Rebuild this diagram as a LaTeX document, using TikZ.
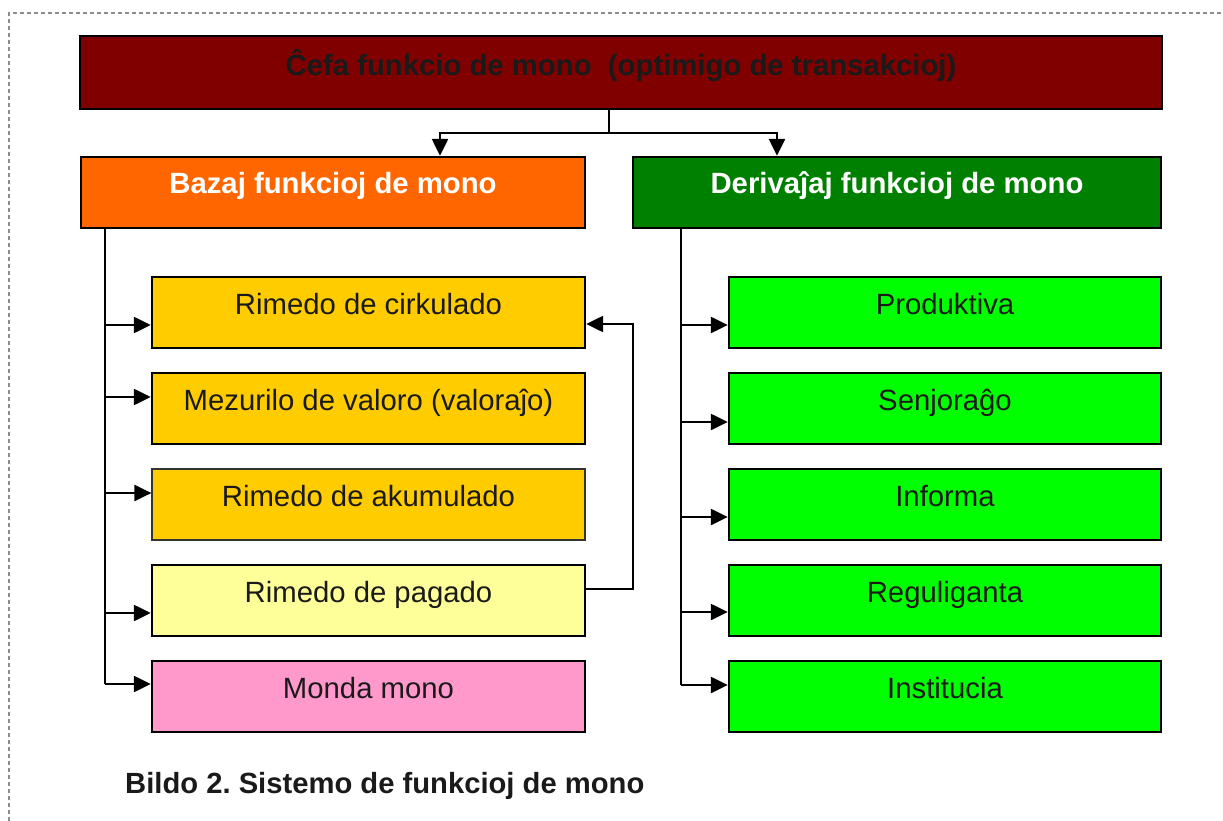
\documentclass[tikz,border=0pt]{standalone}
\usepackage{fontspec}
\setmainfont{Liberation Sans}
\usetikzlibrary{arrows.meta}
\definecolor{darkred}{HTML}{800000}
\definecolor{orng}{HTML}{FF6600}
\definecolor{dgreen}{HTML}{008000}
\definecolor{gold}{HTML}{FFCC00}
\definecolor{lyellow}{HTML}{FFFF99}
\definecolor{pink}{HTML}{FF99CC}
\definecolor{lime}{HTML}{00FF00}
\definecolor{txt}{HTML}{1A1A1A}
\begin{document}
\begin{tikzpicture}[x=1pt,y=-1pt,
  frame/.style={draw=black!45, line width=1.3pt, dash pattern=on 4pt off 3pt},
  box/.style={draw=black, line width=2.4pt, inner sep=0pt, align=center,
    text height=37pt, text depth=34pt, text=txt, font=\fontsize{29.3}{32}\selectfont},
  head/.style={box, text=white, font=\bfseries\fontsize{29.3}{32}\selectfont},
  leftsub/.style={box, minimum width=433pt},
  rightsub/.style={box, minimum width=432pt, fill=lime},
  conn/.style={draw=black, line width=2.4pt},
  arr/.style={conn, -{Triangle[length=17pt,width=16pt]}}
]
\useasboundingbox (0,0) rectangle (1223,821);
\draw[frame] (9,821) -- (9,13) -- (1223,13);

\node[box, fill=darkred, minimum width=1082pt, text height=40pt, text depth=33pt,
  text=txt, font=\bfseries\fontsize{29.3}{32}\selectfont] (top) at (621,72.5)
  {Ĉefa funkcio de mono\ \ (optimigo de transakcioj)};

\node[head, fill=orng, minimum width=504pt] (bazaj) at (333,192.5) {Bazaj funkcioj de mono};
\node[head, fill=dgreen, minimum width=528pt] (deriv) at (897,192.5) {Derivaĵaj funkcioj de mono};

\node[leftsub, fill=gold] (s1) at (368.5,312.5) {Rimedo de cirkulado};
\node[leftsub, fill=gold] (s2) at (368.5,408.5) {Mezurilo de valoro (valoraĵo)};
\node[leftsub, fill=gold, draw=black!80, line width=1.2pt] (s3) at (368.5,504.5) {Rimedo de akumulado};
\node[leftsub, fill=lyellow] (s4) at (368.5,600.5) {Rimedo de pagado};
\node[leftsub, fill=pink] (s5) at (368.5,696.5) {Monda mono};

\node[rightsub] (r1) at (945,312.5) {Produktiva};
\node[rightsub] (r2) at (945,408.5) {Senjoraĝo};
\node[rightsub] (r3) at (945,504.5) {Informa};
\node[rightsub] (r4) at (945,600.5) {Reguliganta};
\node[rightsub] (r5) at (945,696.5) {Institucia};

% top split
\coordinate (tj) at (609,133);
\coordinate (tl) at (440,133);
\coordinate (tr) at (777,133);
\draw[conn] (top.south -| tj) -- (tj);
\draw[arr] (tj) -- (tl) -- (bazaj.north -| tl);
\draw[arr] (tj) -- (tr) -- (deriv.north -| tr);

% left trunk
\coordinate (L1) at (105,325);
\coordinate (L2) at (105,397);
\coordinate (L3) at (105,493);
\coordinate (L4) at (105,613);
\coordinate (L5) at (105,684);
\draw[conn] (bazaj.south -| L1) -- (L5);
\draw[arr] (L1) -- (L1 -| s1.west);
\draw[arr] (L2) -- (L2 -| s2.west);
\draw[arr] (L3) -- (L3 -| s3.west);
\draw[arr] (L4) -- (L4 -| s4.west);
\draw[arr] (L5) -- (L5 -| s5.west);

% right trunk
\coordinate (R1) at (681,325);
\coordinate (R2) at (681,422);
\coordinate (R3) at (681,517);
\coordinate (R4) at (681,612);
\coordinate (R5) at (681,685);
\draw[conn] (deriv.south -| R1) -- (R5);
\draw[arr] (R1) -- (R1 -| r1.west);
\draw[arr] (R2) -- (R2 -| r2.west);
\draw[arr] (R3) -- (R3 -| r3.west);
\draw[arr] (R4) -- (R4 -| r4.west);
\draw[arr] (R5) -- (R5 -| r5.west);

% feedback loop
\coordinate (fb) at (633,589);
\coordinate (ft) at (633,324);
\draw[arr] (s4.east |- fb) -- (fb) -- (ft) -- (s1.east |- ft);

\node[anchor=base west, inner sep=0pt, text=txt, font=\bfseries\fontsize{29.2}{32}\selectfont]
  (cap) at (125,793) {Bildo 2.\ Sistemo de funkcioj de mono};
\end{tikzpicture}
\end{document}
